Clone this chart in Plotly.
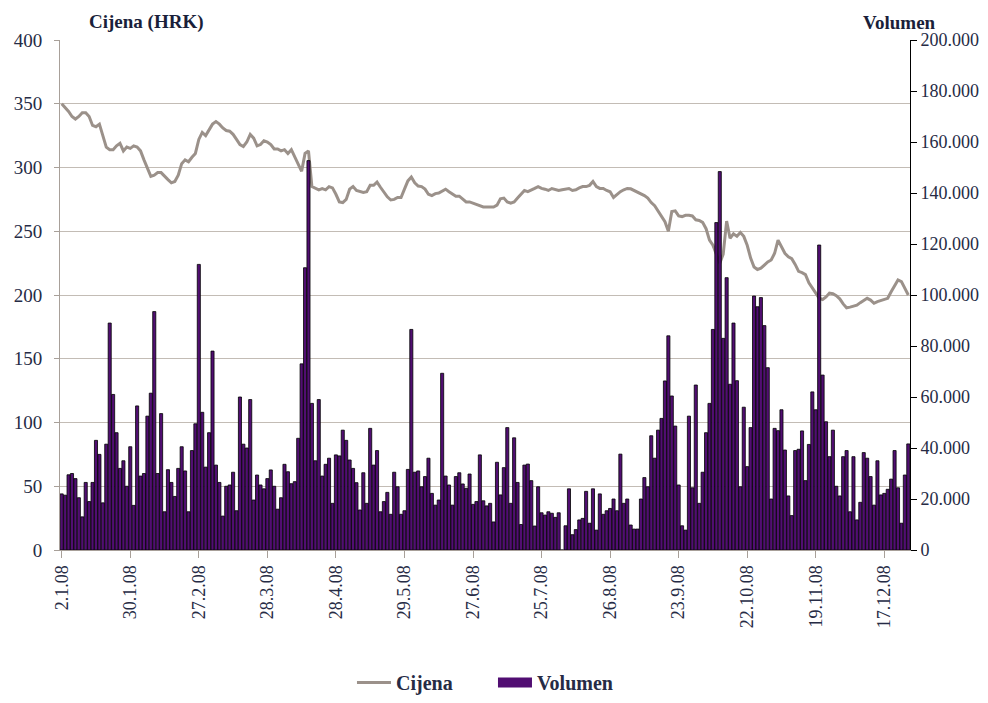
import plotly.graph_objects as go

date_labels = ["2.1.08", "30.1.08", "27.2.08", "28.3.08", "28.4.08", "29.5.08", "27.6.08",
               "25.7.08", "26.8.08", "23.9.08", "22.10.08", "19.11.08", "17.12.08"]

price = [
    350, 347, 344, 340, 338, 340, 343, 343, 340, 333, 332, 334, 325, 316, 314, 314, 317, 319, 313, 316,
    315, 317, 316, 313, 306, 300, 293, 294, 296, 296,
    293, 290.5, 288, 289, 294, 303, 306, 304.5, 308, 311, 322, 327.5, 325, 329, 334, 336, 334, 331, 329, 328.5,
    326, 322, 318, 316.5, 320, 326, 323, 317, 318, 321,
    320, 318, 314.5, 314.5, 313, 314, 311, 314, 308.5, 302, 297, 311, 313, 285, 283.7, 282.5, 283.5, 282.5,
    285, 284, 279, 273, 272.5, 275, 283, 285, 282, 281.5, 280.5, 281, 286,
    286, 288.5, 284.5, 280.5, 277, 274.5, 275, 276.5, 276.5, 283, 289.5, 292.5, 288, 285.5, 285, 283, 279,
    278, 279.5, 280, 281.5, 283, 281, 279, 277.5, 277.5, 275, 273, 273, 272,
    271, 270, 269, 269, 269, 269, 270.5, 275.5, 276, 273, 272, 273, 276, 279, 282, 281, 282, 283.6, 285,
    283.6, 283, 282, 283.5, 283, 282, 282.5, 283, 283.5, 282, 282.5, 284, 285,
    285, 286, 289, 285, 283.6, 283.6, 282, 281, 276.5, 279, 281, 282.5, 283.6, 283.3, 282, 280.5, 279, 278,
    276, 272.5, 270, 265.5, 261.5, 257.5, 250, 265.5, 266, 262, 261.5, 262.5, 262.5,
    262, 259, 258.5, 257, 252, 243, 239, 232, 225, 232, 258, 244.5, 248, 246, 249, 246, 239, 229, 222, 220,
    221, 223.5, 226, 227.5, 232.7, 243, 238, 232.7, 230, 228.5, 224,
    218.5, 217.5, 216, 209.5, 205.5, 201, 197.5, 196.5, 198.5, 201.5, 201, 199.5, 197, 193, 190, 190.5,
    191.5, 192, 194, 196, 197.4, 196, 193.5, 194.8, 195.5, 196.6, 197.4, 202.5, 207.8, 211.8, 210.5, 205, 200,
]

volume = [
    22000, 21500, 29500, 30000, 28000, 20500, 13000, 26500, 19000, 26500, 43000, 37500, 18500, 41500, 89000,
    61000, 46000, 32000, 35000, 25000, 40500, 17500, 56500, 29000, 30000, 52500, 61500, 93500, 30000,
    53500, 15000, 31500, 26500, 21000, 32000, 40500, 31000, 15000, 39000, 49500, 112000, 54000, 32500, 46000,
    78000, 33300, 26500, 13300, 25000, 25500, 30500, 15400, 60000, 41500, 40000, 59000, 19600, 29400, 25500, 24000,
    28000,
    31400, 25000, 16000, 20500, 33600, 30700, 26000, 26800, 43800, 73000, 110700, 152700, 57500, 35000, 59000,
    29000, 33600, 36000, 18300, 37300, 36900, 47000, 43000, 35300, 32000, 26400, 15700, 30300, 18300, 47700,
    33300, 39000, 15000, 19000, 22600, 14000, 30500, 24800, 14000, 15400, 31600, 86500, 30500, 31000, 24800,
    28800, 36000, 22200, 17600, 19600, 69300, 29000, 25500, 17600, 28800, 30300, 25900, 24200, 29800, 17900,
    19000, 37300,
    19300, 17300, 18300, 11000, 34400, 21600, 32300, 48000, 18300, 44000, 26500, 10000, 33300, 33700, 27200,
    9400, 24800, 14600, 13700, 15000, 14400, 12800, 14600, 0, 9500, 24000, 6000, 8000, 11800, 12400,
    23000, 10500, 24000, 7800, 22000, 14000, 15400, 16300, 20000, 15400, 37600, 18300, 20000, 9800, 8200,
    8200, 20000, 28400, 24800, 44800, 36000, 47000, 51600, 66300, 84000, 60400, 48600, 25500, 9500, 7800, 52500,
    24400, 64700, 18300, 30500, 46000, 57500, 86500, 128400, 148400, 83000, 106800, 65000, 89000, 66400, 24800,
    56000, 32700, 48000, 99600, 95400, 99000, 88000, 71500, 20000, 47700, 46800, 55000, 39200, 21200, 13500, 39000,
    39500, 46700, 27200, 41400, 62000, 55000, 119600, 68600, 50300, 36600, 47000, 25000, 21200, 36600, 39000,
    15000, 36600, 11800, 18700, 38200, 36000, 28800, 17600, 35000, 21600, 22200, 23800, 27800, 39000, 24400,
    10500, 29400, 41600,
]

n = len(price)
idx = list(range(n))
tick_pos = list(range(0, n, 20))[:len(date_labels)]

FONT = "Liberation Serif"
TXT = "#262B45"
GRAY = "#A8A099"
PURPLE = "#510E72"

fig = go.Figure()
fig.add_trace(go.Scatter(
    x=idx, y=price, name="Cijena", mode="lines",
    line=dict(color="#9B918A", width=3), yaxis="y",
))
fig.add_trace(go.Bar(
    x=idx, y=volume, name="Volumen", showlegend=False,
    marker=dict(color=PURPLE, line=dict(color="#000000", width=0.8)),
    yaxis="y2",
))
# legend swatch for the volume series (wide rectangle like the original)
fig.add_trace(go.Scatter(
    x=[None], y=[None], name="Volumen", mode="lines",
    line=dict(color=PURPLE, width=13), yaxis="y2",
))

# page body has an 8px margin: figure is sized/offset so plot area lands at x 60-910, y 40-550
fig.update_layout(
    width=980, height=695,
    margin=dict(l=52, r=78, t=32, b=153, autoexpand=False),
    paper_bgcolor="white", plot_bgcolor="white",
    font=dict(family=FONT, size=18, color=TXT),
    separators=",.",
    bargap=0.1,
    showlegend=True,
    legend=dict(orientation="h", x=0.3435, xanchor="left", y=-0.298, yanchor="bottom",
                font=dict(family=FONT, size=20, color=TXT, weight="bold"),
                itemwidth=34, entrywidth=92, entrywidthmode="pixels", traceorder="normal",
                tracegroupgap=0),
    xaxis=dict(
        range=[-0.5, n - 0.5], tickmode="array", tickvals=tick_pos, ticktext=date_labels,
        tickangle=-90, ticks="outside", ticklen=7, tickcolor=GRAY, automargin=False,
        showline=True, linecolor=GRAY, linewidth=1, showgrid=False, zeroline=False,
        tickfont=dict(family=FONT, size=18, color=TXT),
    ),
    yaxis=dict(
        range=[0, 400], dtick=50, tick0=0, showgrid=True, gridcolor="#C3BCB5", gridwidth=1,
        showline=True, linecolor=GRAY, linewidth=1, ticks="outside", ticklen=5, tickcolor=GRAY,
        zeroline=False, tickfont=dict(family=FONT, size=19, color=TXT), ticklabelstandoff=8,
        automargin=False,
    ),
    yaxis2=dict(
        overlaying="y", side="right", range=[0, 200000], dtick=20000, tick0=0,
        showgrid=False, showline=True, linecolor="#000000", linewidth=1,
        ticks="outside", ticklen=6, tickcolor="#000000", tickformat=",d", zeroline=False,
        tickfont=dict(family=FONT, size=18, color=TXT), ticklabelstandoff=0, automargin=False,
    ),
    annotations=[
        dict(text="Cijena (HRK)", xref="paper", yref="paper", x=0.102, y=1.035,
             xanchor="center", yanchor="middle", showarrow=False,
             font=dict(family=FONT, size=19, color="#1A1F3A", weight="bold")),
        dict(text="Volumen", xref="paper", yref="paper", x=0.988, y=1.035,
             xanchor="center", yanchor="middle", showarrow=False,
             font=dict(family=FONT, size=19, color="#1A1F3A", weight="bold")),
    ],
)

fig.write_html("out.html")
